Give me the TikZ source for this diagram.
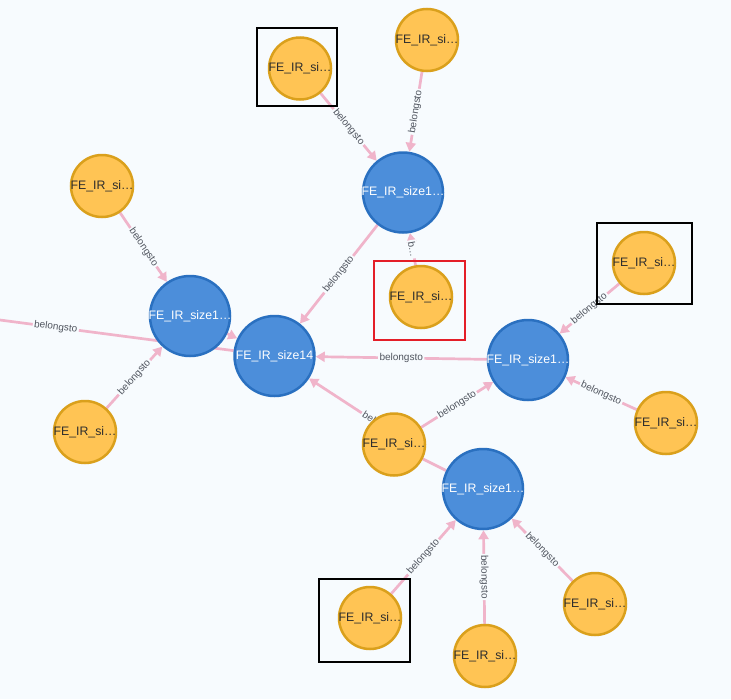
\documentclass[tikz,border=0pt]{standalone}
\usepackage{fontspec}
\setmainfont{Liberation Sans}
\usetikzlibrary{arrows.meta}
\definecolor{bg}{RGB}{247,251,254}
\definecolor{orfill}{RGB}{255,196,84}
\definecolor{ordraw}{RGB}{218,160,28}
\definecolor{blfill}{RGB}{76,142,218}
\definecolor{bldraw}{RGB}{42,112,192}
\definecolor{edgecol}{RGB}{240,180,202}
\definecolor{lblcol}{RGB}{80,85,95}
\definecolor{ortext}{RGB}{45,45,45}
\definecolor{boxred}{RGB}{228,30,40}
\pgfdeclarelayer{bglayer}
\pgfdeclarelayer{edges}
\pgfsetlayers{bglayer,edges,main}
\begin{document}
\begin{tikzpicture}[x=1pt,y=-1pt,
  onode/.style={circle,fill=orfill,draw=ordraw,line width=2.5pt,minimum size=62pt,inner sep=0pt,
    label={[text=ortext,font=\fontsize{12.3}{14}\selectfont]center:FE\_IR\_si…}},
  bnode/.style={circle,fill=blfill,draw=bldraw,line width=2.5pt,minimum size=80pt,inner sep=0pt,
    label={[text=white,font=\fontsize{12.3}{14}\selectfont]center:#1}},
  rel/.style={draw=edgecol,line width=2.7pt,-{Triangle[length=9pt,width=10pt]}},
  plainrel/.style={draw=edgecol,line width=2.7pt},
  lab/.style={midway,sloped,fill=bg,inner sep=1.5pt,text=lblcol,font=\fontsize{10}{11}\selectfont},
  selbox/.style={draw=black,line width=2.5pt},
  redbox/.style={draw=boxred,line width=2pt}
]
\useasboundingbox (0,0) rectangle (731,699);
\begin{pgfonlayer}{bglayer}
\fill[bg] (0,0) rectangle (731,699);
\end{pgfonlayer}

% blue nodes
\node[bnode={FE\_IR\_size1…}] (b1) at (403,192.5) {};
\node[bnode={FE\_IR\_size1…}] (b2) at (190,316) {};
\node[bnode={FE\_IR\_size14}] (b3) at (274.5,356) {};
\node[bnode={FE\_IR\_size1…}] (b4) at (528,360) {};
\node[bnode={FE\_IR\_size1…}] (b5) at (483,489) {};

% orange nodes
\node[onode] (o1) at (300,68.5) {};
\node[onode] (o2) at (427,40) {};
\node[onode] (o3) at (102,186) {};
\node[onode] (o4) at (421,297) {};
\node[onode] (o5) at (644,263) {};
\node[onode] (o6) at (85,432) {};
\node[onode] (o7) at (394,444.5) {};
\node[onode] (o8) at (666,423) {};
\node[onode] (o9) at (370,618) {};
\node[onode] (o10) at (485,656) {};
\node[onode] (o11) at (595,604) {};

\coordinate (off) at (-10,318.7);
\coordinate (o7t) at (394,434);

\begin{pgfonlayer}{edges}
\draw[rel] (o1) -- (b1) node[lab] {belongsto};
\draw[rel] (o2) -- (b1) node[lab] {belongsto};
\draw[rel] (o4) -- (b1) node[lab] {b…};
\draw[rel] (b1) -- (b3) node[lab] {belongsto};
\draw[rel] (o3) -- (b2) node[lab] {belongsto};
\draw[rel] (b2) -- (b3);
\draw[rel] (o6) -- (b2) node[lab] {belongsto};
\draw[plainrel] (off) -- (b3) node[lab,pos=0.27] {belongsto};
\draw[rel] (b4) -- (b3) node[lab] {belongsto};
\draw[rel] (o7t) -- (b3) node[lab,pos=0.15] {belongsto};
\draw[rel] (o7) -- (b4) node[lab] {belongsto};
\draw[plainrel] (o7) -- (b5);
\draw[rel] (o5) -- (b4) node[lab] {belongsto};
\draw[rel] (o8) -- (b4) node[lab] {belongsto};
\draw[rel] (o9) -- (b5) node[lab] {belongsto};
\draw[rel] (o10) -- (b5) node[lab] {belongsto};
\draw[rel] (o11) -- (b5) node[lab] {belongsto};
\end{pgfonlayer}

% selection boxes
\draw[selbox] (257,28) rectangle (337,106);
\draw[selbox] (597,223) rectangle (692,304);
\draw[selbox] (319,579) rectangle (410,662);
\draw[redbox] (374,261) rectangle (465,340);
\end{tikzpicture}
\end{document}
